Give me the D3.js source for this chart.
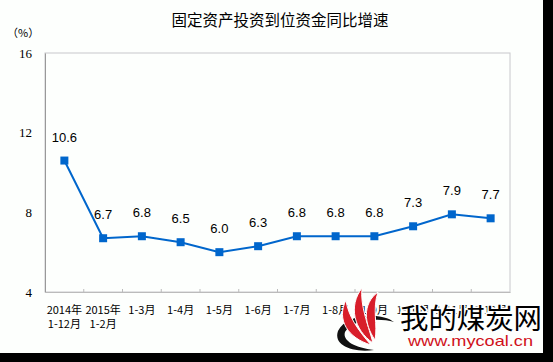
<!DOCTYPE html>
<html>
<head>
<meta charset="utf-8">
<script src="https://cdn.jsdelivr.net/npm/d3@7"></script>
<style>
  body { margin: 0; background: #000; }
  svg { display: block; }
</style>
</head>
<body>
<div id="chart"></div>
<script>
// data
const categories = ['2014年|1-12月', '2015年|1-2月', '1-3月', '1-4月', '1-5月', '1-6月',
  '1-7月', '1-8月', '1-9月', '1-10月', '1-11月', '1-12月'];
const values = [10.6, 6.7, 6.8, 6.5, 6.0, 6.3, 6.8, 6.8, 6.8, 7.3, 7.9, 7.7];
const yTicks = [4, 8, 12, 16];

const width = 553;
const height = 362;
const margin = {top: 53, right: 43, bottom: 70, left: 45};

const svg = d3.select('#chart').append('svg')
  .attr('width', width)
  .attr('height', height);

// white page, black strip right/bottom
svg.append('rect').attr('width', width).attr('height', height).attr('fill', '#000');
svg.append('rect').attr('width', 543).attr('height', 353).attr('fill', '#fdfffd');

const xScale = d3.scaleBand()
  .domain(categories)
  .range([margin.left, width - margin.right]);

const yScale = d3.scaleLinear()
  .domain([4, 16])
  .range([height - margin.bottom, margin.top]);

// title
svg.append('text')
  .attr('x', 280).attr('y', 26)
  .attr('text-anchor', 'middle')
  .style('font', '15.5px "Noto Sans CJK SC"')
  .text('固定资产投资到位资金同比增速');

svg.append('text')
  .attr('x', 7).attr('y', 37)
  .style('font', '11px "Noto Sans CJK SC"')
  .text('（%）');

// frame
svg.append('rect')
  .attr('x', margin.left).attr('y', margin.top)
  .attr('width', width - margin.left - margin.right)
  .attr('height', height - margin.top - margin.bottom)
  .attr('fill', 'none')
  .attr('stroke', '#c8c8cc');

// y axis
const yAxis = svg.append('g')
  .attr('transform', `translate(${margin.left},0)`)
  .call(d3.axisLeft(yScale).tickValues(yTicks).tickSize(0).tickPadding(13));
yAxis.select('.domain').attr('stroke', '#999');
yAxis.selectAll('text').style('font', '13px "Liberation Serif"').attr('fill', '#000');

// x axis
const xAxis = svg.append('g')
  .attr('transform', `translate(0,${height - margin.bottom})`)
  .call(d3.axisBottom(xScale).tickSize(0).tickFormat(''));
xAxis.select('.domain').attr('stroke', '#bbb');

// tick marks on category boundaries, pointing up
svg.append('g')
  .selectAll('line')
  .data(categories.slice(1))
  .join('line')
  .attr('x1', d => xScale(d)).attr('x2', d => xScale(d))
  .attr('y1', height - margin.bottom).attr('y2', height - margin.bottom - 3)
  .attr('stroke', '#bbb');

// category labels, two lines where needed
const xl = svg.append('g')
  .selectAll('text')
  .data(categories)
  .join('text')
  .attr('x', d => xScale(d) + xScale.bandwidth() / 2)
  .attr('y', height - margin.bottom + 22)
  .attr('text-anchor', 'middle')
  .style('font', '11px "Noto Sans CJK SC"');
xl.selectAll('tspan')
  .data(d => d.split('|'))
  .join('tspan')
  .attr('x', function () { return this.parentNode.getAttribute('x'); })
  .attr('dy', (d, i) => i === 0 ? 0 : 14)
  .text(d => d);

// the line
const line = d3.line()
  .x((d, i) => xScale(categories[i]) + xScale.bandwidth() / 2)
  .y(d => yScale(d));

svg.append('path')
  .datum(values)
  .attr('d', line)
  .attr('fill', 'none')
  .attr('stroke', '#0066cc')
  .attr('stroke-width', 2);

svg.append('g')
  .selectAll('rect')
  .data(values)
  .join('rect')
  .attr('x', (d, i) => xScale(categories[i]) + xScale.bandwidth() / 2 - 4)
  .attr('y', d => yScale(d) - 4)
  .attr('width', 8).attr('height', 8)
  .attr('fill', '#0066cc');

// value labels
svg.append('g')
  .selectAll('text')
  .data(values)
  .join('text')
  .attr('x', (d, i) => xScale(categories[i]) + xScale.bandwidth() / 2)
  .attr('y', d => yScale(d) - 19)
  .attr('text-anchor', 'middle')
  .style('font', '13px "Liberation Sans"')
  .text(d => d.toFixed(1));

// watermark (logo + site name), drawn over the axis labels as in the source
const wm = svg.append('g');
wm.append('path')
  .attr('d', 'M394,322 C382,312 346,313 338,331 C333,345 352,353 374,350 C356,348 342,341 345,332 C351,320 378,317 394,322 Z')
  .attr('fill', '#111');
const flames = [
  'M371,345 C348,338 336,320 346,300 C348,316 358,330 371,345 Z',
  'M373,343 C354,330 348,306 362,288 C360,306 368,324 373,343 Z',
  'M375,340 C364,324 362,304 378,292 C372,310 378,324 375,340 Z'
];
wm.selectAll('path.flame')
  .data(flames)
  .join('path')
  .attr('class', 'flame')
  .attr('d', d => d)
  .attr('fill', '#d81e2a')
  .attr('stroke', '#fff')
  .attr('stroke-width', 1);
wm.append('text')
  .attr('x', 400).attr('y', 329)
  .attr('textLength', 142)
  .attr('lengthAdjust', 'spacingAndGlyphs')
  .style('font', '28px "Noto Sans CJK SC"')
  .style('paint-order', 'stroke')
  .attr('stroke', '#fff').attr('stroke-width', 3)
  .attr('fill', '#000')
  .text('我的煤炭网');
wm.append('text')
  .attr('x', 408).attr('y', 346)
  .attr('textLength', 125)
  .attr('lengthAdjust', 'spacingAndGlyphs')
  .style('font', '15px "Liberation Sans"')
  .attr('fill', '#d0101a')
  .text('www.mycoal.cn');
</script>
</body>
</html>
